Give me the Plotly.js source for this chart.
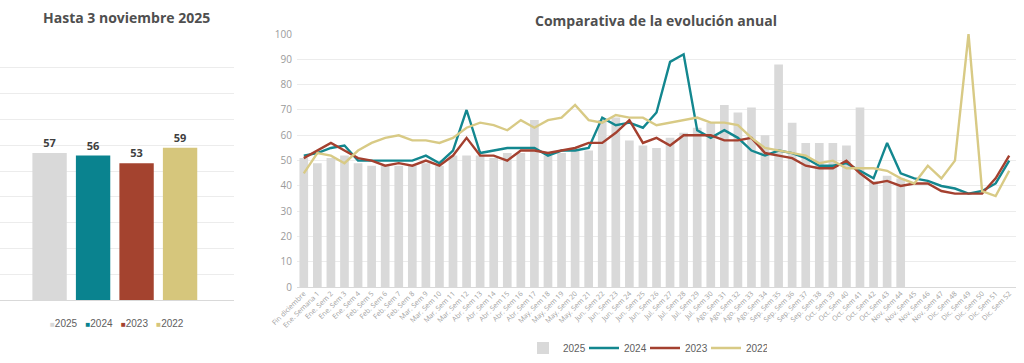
<!DOCTYPE html>
<html>
<head>
<meta charset="utf-8">
<script src="https://cdn.plot.ly/plotly-3.0.1.min.js"></script>
<style>
  html, body { margin: 0; padding: 0; background: #ffffff; }
  #chart { width: 1024px; height: 363px; }
</style>
</head>
<body>
<div id="chart"></div>
<script>
// ---- Left panel: totals up to 3 November 2025 ----
const summaryYears = ['2025', '2024', '2023', '2022'];
const summaryValues = [57, 56, 53, 59];

// ---- Right panel: weekly evolution ----
const weekLabels = [
  'Fin diciembre', 'Ene. Semana 1', 'Ene. Sem 2', 'Ene. Sem 3', 'Ene. Sem 4',
  'Feb. Sem 5', 'Feb. Sem 6', 'Feb. Sem 7', 'Feb. Sem 8',
  'Mar. Sem 9', 'Mar. Sem 10', 'Mar. Sem 11', 'Mar. Sem 12',
  'Abr. Sem 13', 'Abr. Sem 14', 'Abr. Sem 15', 'Abr. Sem 16', 'Abr. Sem 17',
  'May. Sem 18', 'May. Sem 19', 'May. Sem 20', 'May. Sem 21',
  'Jun. Sem 22', 'Jun. Sem 23', 'Jun. Sem 24', 'Jun. Sem 25', 'Jun. Sem 26',
  'Jul. Sem 27', 'Jul. Sem 28', 'Jul. Sem 29', 'Jul. Sem 30',
  'Ago. Sem 31', 'Ago. Sem 32', 'Ago. Sem 33', 'Ago. Sem 34',
  'Sep. Sem 35', 'Sep. Sem 36', 'Sep. Sem 37', 'Sep. Sem 38',
  'Oct. Sem 39', 'Oct. Sem 40', 'Oct. Sem 41', 'Oct. Sem 42', 'Oct. Sem 43',
  'Nov. Sem 44', 'Nov. Sem 45', 'Nov. Sem 46', 'Nov. Sem 47',
  'Dic. Sem 48', 'Dic. Sem 49', 'Dic. Sem 50', 'Dic. Sem 51', 'Dic. Sem 52'
];

const values2025 = [
  51, 49, 51, 52, 49, 48, 48, 48, 48, 49, 48, 52, 52, 52, 51, 53, 53, 66,
  52, 53, 54, 54, 66, 67, 58, 56, 55, 59, 61, 63, 65, 72, 69, 71, 60, 88,
  65, 57, 57, 57, 56, 71, 42, 44, 43
];
const values2024 = [
  52, 53, 55, 56, 50, 50, 50, 50, 50, 52, 49, 54, 70, 53, 54, 55, 55, 55,
  52, 54, 54, 55, 67, 64, 65, 63, 69, 89, 92, 62, 59, 62, 59, 54, 52, 54,
  53, 51, 48, 48, 49, 46, 43, 57, 45, 43, 42, 40, 39, 37, 38, 41, 50
];
const values2023 = [
  51, 54, 57, 54, 51, 50, 48, 49, 48, 50, 48, 52, 59, 52, 52, 50, 54, 54,
  53, 54, 55, 57, 57, 61, 66, 57, 59, 56, 60, 60, 60, 58, 58, 59, 53, 52,
  51, 48, 47, 47, 50, 45, 41, 42, 40, 41, 41, 38, 37, 37, 37, 43, 52
];
const values2022 = [
  45, 53, 52, 49, 54, 57, 59, 60, 58, 58, 57, 59, 63, 65, 64, 62, 66, 63,
  66, 67, 72, 66, 65, 68, 67, 67, 64, 65, 66, 67, 65, 65, 64, 59, 55, 54,
  53, 52, 49, 50, 47, 47, 47, 46, 43, 41, 48, 43, 50, 100, 38, 36, 46
];

const colors = {
  '2025': '#d9d9d9',
  '2024': '#0a838f',
  '2023': '#a4432f',
  '2022': '#d6c67c'
};
const lineColors = {
  '2024': '#13878f',
  '2023': '#a4402f',
  '2022': '#d8ca85'
};

const tickFont = { family: 'Open Sans, Lato, sans-serif', size: 10, color: '#9a9a9a' };
const legendFont = { family: 'Liberation Sans, Arial, sans-serif', size: 10, color: '#606060' };

const traces = [];

// Left summary bars
summaryYears.forEach((yr, i) => {
  traces.push({
    type: 'bar',
    x: [yr],
    y: [summaryValues[i]],
    name: yr,
    width: 0.79,
    marker: { color: colors[yr] },
    text: [String(summaryValues[i])],
    textposition: 'outside',
    textfont: { family: 'Open Sans, sans-serif', size: 11, color: '#404040', weight: 'bold' },
    cliponaxis: false,
    xaxis: 'x',
    yaxis: 'y',
    showlegend: false,
    hoverinfo: 'skip'
  });
});

// Right panel
traces.push({
  type: 'bar',
  x: weekLabels.slice(0, values2025.length),
  y: values2025,
  name: '2025',
  width: 0.64,
  marker: { color: colors['2025'] },
  xaxis: 'x2',
  yaxis: 'y2'
});
[['2024', values2024], ['2023', values2023], ['2022', values2022]].forEach(([yr, vals]) => {
  traces.push({
    type: 'scatter',
    mode: 'lines',
    x: weekLabels,
    y: vals,
    name: yr,
    line: { color: lineColors[yr], width: 2.4 },
    xaxis: 'x2',
    yaxis: 'y2'
  });
});

// Left panel legend as a text line with coloured squares
const leftLegendText = summaryYears
  .map(yr => `<span style="color:${colors[yr]};font-size:8px">■</span>${yr}`)
  .join('\u00a0\u00a0\u00a0');

const H = 363, W = 1024;
const layout = {
  width: W,
  height: H,
  margin: { l: 0, r: 0, t: 0, b: 0, autoexpand: false },
  paper_bgcolor: '#ffffff',
  plot_bgcolor: '#ffffff',
  barmode: 'overlay',
  showlegend: true,
  xaxis: {
    domain: [0, 234 / W],
    type: 'category',
    range: [-1.14, 4.24],
    showticklabels: false,
    showgrid: false,
    zeroline: false,
    showline: false,
    fixedrange: true
  },
  yaxis: {
    domain: [(H - 300) / H, (H - 42) / H],
    range: [0, 100],
    dtick: 10,
    showticklabels: false,
    gridcolor: '#ececec',
    gridwidth: 1,
    zeroline: true,
    zerolinecolor: '#d9d9d9',
    zerolinewidth: 1,
    fixedrange: true
  },
  xaxis2: {
    domain: [297 / W, 1016 / W],
    type: 'category',
    categoryorder: 'array',
    categoryarray: weekLabels,
    range: [-0.5, weekLabels.length - 0.5],
    tickmode: 'linear',
    tick0: 0,
    dtick: 1,
    tickangle: -45,
    tickfont: { family: 'Open Sans, Lato, sans-serif', size: 7, color: '#a0a0a0' },
    showgrid: false,
    zeroline: false,
    showline: false,
    anchor: 'y2',
    fixedrange: true
  },
  yaxis2: {
    domain: [(H - 287.3) / H, (H - 34) / H],
    range: [0, 100],
    dtick: 10,
    tickfont: tickFont,
    gridcolor: '#ececec',
    gridwidth: 1,
    zeroline: true,
    zerolinecolor: '#d9d9d9',
    zerolinewidth: 1,
    anchor: 'x2',
    ticklabelstandoff: 4,
    fixedrange: true
  },
  legend: {
    orientation: 'h',
    x: 645 / W,
    xanchor: 'center',
    y: (H - 348) / H,
    yanchor: 'middle',
    font: legendFont,
    itemwidth: 30,
    entrywidth: 16,
    entrywidthmode: 'pixels',
    bgcolor: 'rgba(0,0,0,0)'
  },
  annotations: [
    {
      text: 'Hasta 3 noviembre 2025',
      xref: 'paper', yref: 'paper',
      x: 126 / W, y: (H - 17) / H,
      xanchor: 'center', yanchor: 'middle',
      showarrow: false,
      font: { family: 'Open Sans, sans-serif', size: 14, color: '#4f4f4f', weight: 'bold' }
    },
    {
      text: 'Comparativa de la evolución anual',
      xref: 'paper', yref: 'paper',
      x: 656 / W, y: (H - 20) / H,
      xanchor: 'center', yanchor: 'middle',
      showarrow: false,
      font: { family: 'Open Sans, sans-serif', size: 14, color: '#4f4f4f', weight: 'bold' }
    },
    {
      text: leftLegendText,
      xref: 'paper', yref: 'paper',
      x: 117 / W, y: (H - 323) / H,
      xanchor: 'center', yanchor: 'middle',
      showarrow: false,
      font: legendFont
    }
  ]
};

Plotly.newPlot('chart', traces, layout, { displayModeBar: false, staticPlot: true });
</script>
</body>
</html>
